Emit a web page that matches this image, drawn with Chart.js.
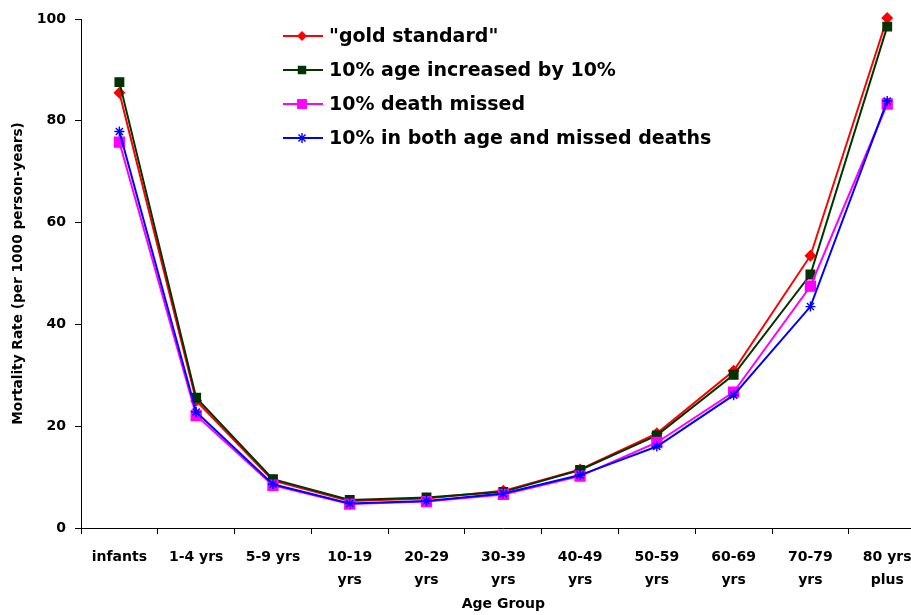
<!DOCTYPE html>
<html>
<head>
<meta charset="utf-8">
<script src="https://cdn.jsdelivr.net/npm/chart.js@4.4.1/dist/chart.umd.min.js"></script>
<style>
    html, body { margin: 0; padding: 0; background: #fff; overflow: hidden; }
    #chart { display: block; }
</style>
</head>
<body>
<canvas id="chart" width="934" height="615"></canvas>
<script>
// --- DATA ---
const ageGroups = ['infants', '1-4 yrs', '5-9 yrs', ['10-19', 'yrs'], ['20-29', 'yrs'], ['30-39', 'yrs'],
    ['40-49', 'yrs'], ['50-59', 'yrs'], ['60-69', 'yrs'], ['70-79', 'yrs'], ['80 yrs', 'plus']];
const goldStandard = [85.5, 25.0, 9.3, 5.3, 5.8, 7.3, 11.5, 18.6, 30.9, 53.5, 100.2];
const ageIncreased = [87.6, 25.6, 9.6, 5.5, 6.0, 7.1, 11.4, 18.2, 30.1, 49.8, 98.5];
const deathMissed = [75.8, 22.1, 8.4, 4.7, 5.2, 6.6, 10.2, 16.8, 26.7, 47.5, 83.3];
const bothErrors = [77.9, 22.8, 8.6, 4.8, 5.3, 6.8, 10.4, 16.0, 26.1, 43.5, 83.9];
const yTicks = [0, 20, 40, 60, 80, 100];

const FONT = "'DejaVu Sans', sans-serif";

const makeSet = (label, data, color, style, radius, order) => ({
    label, data,
    borderColor: color,
    backgroundColor: color,
    borderWidth: 2,
    pointStyle: style,
    pointRadius: radius,
    pointHoverRadius: radius,
    pointBorderWidth: 1.4,
    tension: 0,
    clip: false,
    order
});

// --- LEGEND (line + marker, drawn inside the plot) ---
const drawMarker = (ctx, style, x, y, r, color) => {
    ctx.save();
    ctx.fillStyle = color;
    ctx.strokeStyle = color;
    ctx.lineWidth = 1.4;
    ctx.beginPath();
    if (style === 'rectRot') {
        ctx.moveTo(x - r, y); ctx.lineTo(x, y - r); ctx.lineTo(x + r, y); ctx.lineTo(x, y + r);
        ctx.closePath(); ctx.fill();
    } else if (style === 'rect') {
        const s = r * Math.SQRT1_2;
        ctx.rect(x - s, y - s, 2 * s, 2 * s); ctx.fill();
    } else if (style === 'star') {
        const d = r * Math.SQRT1_2;
        ctx.moveTo(x - r, y); ctx.lineTo(x + r, y);
        ctx.moveTo(x, y - r); ctx.lineTo(x, y + r);
        ctx.moveTo(x - d, y - d); ctx.lineTo(x + d, y + d);
        ctx.moveTo(x - d, y + d); ctx.lineTo(x + d, y - d);
        ctx.stroke();
    }
    ctx.restore();
};

const insideLegend = {
    id: 'insideLegend',
    afterDraw(chart) {
        const ctx = chart.ctx;
        const rows = [36, 70, 104, 138];
        chart.data.datasets.forEach((ds, i) => {
            const y = rows[i];
            ctx.save();
            ctx.strokeStyle = ds.borderColor;
            ctx.lineWidth = 2;
            ctx.beginPath();
            ctx.moveTo(283, y);
            ctx.lineTo(323, y);
            ctx.stroke();
            ctx.restore();
            drawMarker(ctx, ds.pointStyle, 302, y, ds.pointRadius, ds.borderColor);
            ctx.save();
            ctx.fillStyle = '#000';
            ctx.font = "bold 19px " + FONT;
            ctx.textBaseline = 'middle';
            ctx.textAlign = 'left';
            ctx.fillText(ds.label, 329, y + 1);
            ctx.restore();
        });
    }
};

new Chart(document.getElementById('chart'), {
    type: 'line',
    data: {
        labels: ageGroups,
        datasets: [
            makeSet('"gold standard"', goldStandard, '#ff0000', 'rectRot', 5, 3),
            makeSet('10% age increased by 10%', ageIncreased, '#003300', 'rect', 6, 2),
            makeSet('10% death missed', deathMissed, '#ff00ff', 'rect', 7, 1),
            makeSet('10% in both age and missed deaths', bothErrors, '#0000ff', 'star', 5, 0)
        ]
    },
    options: {
        responsive: false,
        animation: false,
        devicePixelRatio: 1,
        layout: { padding: { top: 19, right: 1, left: 0, bottom: 0 } },
        plugins: {
            legend: { display: false },
            tooltip: { enabled: false }
        },
        scales: {
            x: {
                offset: true,
                afterFit: (scale) => { scale.height = 87; },
                grid: {
                    display: true, drawOnChartArea: false, drawTicks: true,
                    tickLength: 6, color: '#000', offset: true
                },
                border: { display: true, color: '#000', width: 1 },
                ticks: {
                    color: '#000', padding: 12, maxRotation: 0, autoSkip: false,
                    font: { family: FONT, size: 14, weight: 'bold', lineHeight: 1.65 }
                },
                title: {
                    display: true, text: 'Age Group', color: '#000',
                    padding: { top: 0, bottom: 2 },
                    font: { family: FONT, size: 14, weight: 'bold' }
                }
            },
            y: {
                min: 0, max: 100,
                afterFit: (scale) => { scale.width = 81; },
                afterBuildTicks: (scale) => { scale.ticks = yTicks.map(v => ({ value: v })); },
                grid: {
                    display: true, drawOnChartArea: false, drawTicks: true,
                    tickLength: 6, color: '#000'
                },
                border: { display: true, color: '#000', width: 1 },
                ticks: {
                    color: '#000', padding: 9,
                    font: { family: FONT, size: 14, weight: 'bold' }
                },
                title: {
                    display: true, text: 'Mortality Rate (per 1000 person-years)', color: '#000',
                    padding: { top: 10, bottom: 0 },
                    font: { family: FONT, size: 13.7, weight: 'bold' }
                }
            }
        }
    },
    plugins: [insideLegend]
});
</script>
</body>
</html>
